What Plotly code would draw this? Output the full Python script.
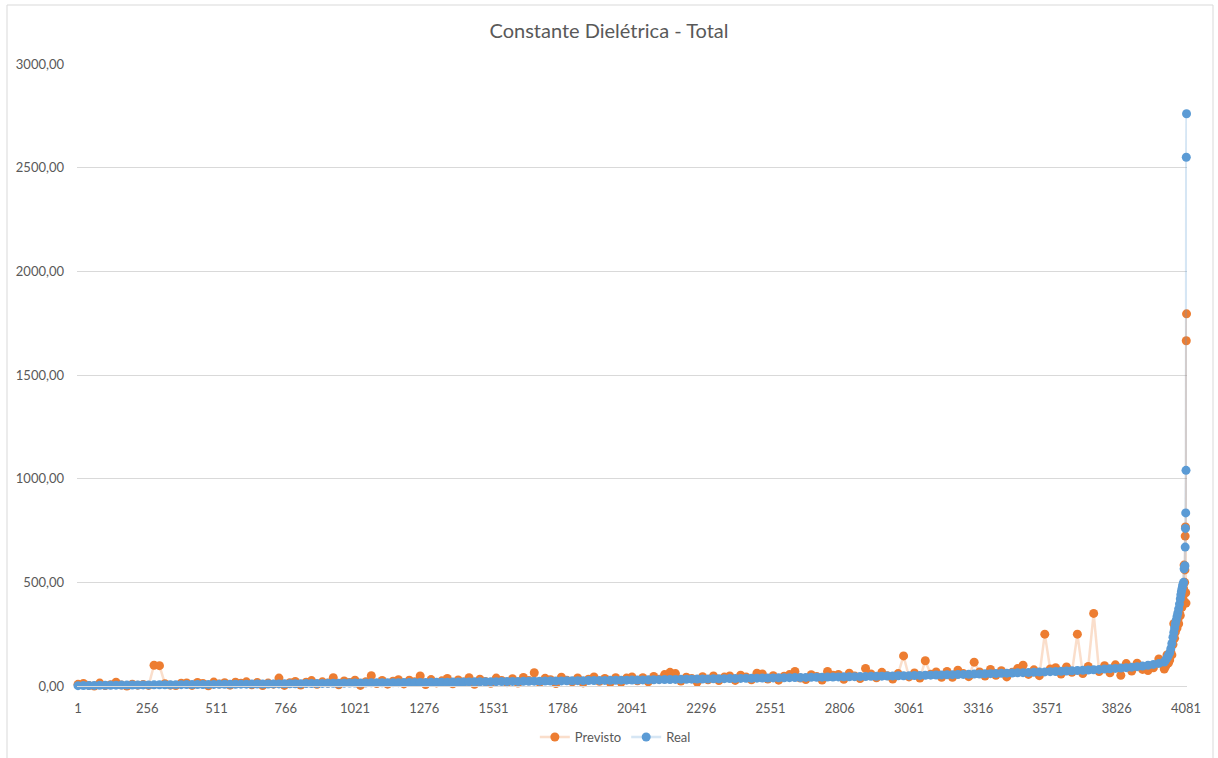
import plotly.graph_objects as go

# ---- data ----
body_start, body_step, body_count = 1, 20, 201   # categories 1, 21, ..., 4001
tail_idx = [4006, 4011, 4016, 4021, 4025, 4029, 4033, 4036, 4039, 4042, 4045,
            4048, 4051, 4054, 4057, 4060, 4062, 4064, 4066, 4068, 4070, 4072,
            4074, 4076, 4077, 4078, 4079, 4080, 4081, 4082, 4083]

real_body = [
    1.5, 2, 2.5, 3, 3.2, 3.5, 3.8, 4, 4.3, 4.5, 4.8, 5, 5.2, 5.4, 5.6, 5.8, 6, 6.2, 6.4, 6.6,
    6.8, 7, 7.2, 7.4, 7.6, 7.8, 8, 8.2, 8.4, 8.6, 8.8, 9, 9.2, 9.4, 9.6, 9.8, 10, 10.2, 10.5, 10.8,
    11, 11.3, 11.6, 11.9, 12.2, 12.5, 12.8, 13.1, 13.4, 13.7, 14, 14.3, 14.6, 14.9, 15.2, 15.4, 15.6, 15.8, 16, 16.2,
    16.4, 16.6, 16.8, 17, 17.2, 17.5, 17.8, 18.1, 18.4, 18.7, 19, 19.3, 19.6, 19.9, 20.2, 20.5, 20.8, 21.1, 21.4, 21.7,
    22, 22.3, 22.6, 22.9, 23.2, 23.5, 23.8, 24.1, 24.4, 24.7, 25, 25.3, 25.6, 25.9, 26.2, 26.5, 26.8, 27.1, 27.4, 27.7,
    28, 28.3, 28.6, 29, 29.4, 29.8, 30.2, 30.6, 31, 31.4, 31.8, 32.2, 32.6, 33, 33.4, 33.8, 34.2, 34.6, 35, 35.4,
    35.8, 36.2, 36.6, 37, 37.4, 37.8, 38.2, 38.6, 39, 39.4, 39.8, 40.2, 40.6, 41, 41.4, 41.8, 42.2, 42.6, 43, 43.4,
    43.8, 44.2, 44.6, 45, 45.5, 46, 46.5, 47, 47.5, 48, 48.5, 49, 49.5, 50, 50.6, 51.2, 51.8, 52.4, 53, 53.6,
    54.2, 54.8, 55.4, 56, 56.7, 57.4, 58.1, 58.8, 59.5, 60.3, 61.1, 61.9, 62.7, 63.5, 64.4, 65.3, 66.2, 67.1, 68, 69,
    70, 71.2, 72.4, 73.6, 74.8, 76, 77.3, 78.6, 80, 81.5, 83, 84.7, 86.5, 88.5, 90.7, 93.2, 96, 99.5, 104, 109,
    116,
]
real_tail = [125, 135, 147, 160, 180, 205, 235, 258, 280, 300, 318,
             335, 352, 372, 395, 420, 440, 455, 468, 480, 490, 500,
             565, 575, 580, 670, 760, 835, 1040, 2550, 2760]

previsto_body = [
    8, 12, 3, 0, 14, 2, 6, 18, 5, 0, 9, 4, 7, 3, 100, 98, 11, 4, 2, 13,
    15, 3, 17, 12, 1, 19, 10, 16, 4, 18, 13, 20, 6, 17, 2, 14, 9, 38, 3, 16,
    22, 5, 18, 26, 8, 20, 14, 40, 6, 24, 17, 28, 3, 21, 50, 12, 27, 9, 23, 30,
    10, 28, 20, 48, 7, 31, 15, 25, 36, 11, 29, 19, 40, 8, 33, 22, 13, 38, 27, 16,
    35, 14, 41, 26, 64, 18, 37, 30, 12, 42, 28, 20, 39, 15, 33, 44, 23, 36, 17, 40,
    18, 38, 44, 25, 40, 20, 46, 33, 55, 66, 60, 24, 42, 36, 19, 45, 30, 48, 26, 43,
    48, 27, 52, 44, 30, 62, 58, 34, 50, 28, 47, 55, 70, 38, 31, 54, 46, 29, 70, 52,
    56, 32, 62, 48, 36, 85, 58, 40, 66, 50, 34, 60, 145, 44, 63, 38, 122, 57, 68, 42,
    70, 42, 76, 60, 45, 115, 68, 48, 80, 52, 74, 44, 66, 84, 100, 56, 78, 50, 250, 82,
    88, 58, 92, 66, 250, 60, 94, 350, 70, 98, 64, 102, 52, 108, 72, 110, 80, 75, 88, 130,
    82,
]
previsto_tail = [95, 150, 110, 125, 165, 150, 200, 300, 230, 260, 290,
                 280, 320, 300, 350, 340, 390, 420, 380, 445, 420, 470,
                 583, 500, 560, 723, 767, 450, 400, 1665, 1795]

tick_labels = ["1", "256", "511", "766", "1021", "1276", "1531", "1786", "2041",
               "2296", "2551", "2806", "3061", "3316", "3571", "3826", "4081"]
y_ticks = [0, 500, 1000, 1500, 2000, 2500, 3000]

idx = list(range(body_start, body_start + body_step * body_count, body_step)) + tail_idx
real = real_body + real_tail
previsto = previsto_body + previsto_tail

# ---- figure ----
FONT = "Lato"
GRAY = "#595959"
W, H = 1218, 758
L, R, T, B = 77, 31, 64, 72
PW, PH = W - L - R, H - T - B

fig = go.Figure()
fig.add_trace(go.Scatter(
    x=idx, y=previsto, name="Previsto", mode="lines+markers",
    line=dict(color="rgba(237,125,49,0.25)", width=2.5),
    marker=dict(color="#ED7D31", size=9, line=dict(width=0)),
    cliponaxis=False,
))
fig.add_trace(go.Scatter(
    x=idx, y=real, name="Real", mode="lines+markers",
    line=dict(color="rgba(91,155,213,0.25)", width=2.5),
    marker=dict(color="#5B9BD5", size=9, line=dict(width=0)),
    cliponaxis=False,
))

fig.update_layout(
    width=W, height=H,
    margin=dict(l=L, r=R, t=T, b=B, autoexpand=False),
    paper_bgcolor="white", plot_bgcolor="white",
    separators=",.",
    font=dict(family=FONT, color=GRAY, size=13),
    title=dict(text="Constante Dielétrica - Total", x=0.5, xanchor="center",
               y=1 - 31 / H, yanchor="middle", yref="container",
               font=dict(family=FONT, size=20, color=GRAY)),
    showlegend=True,
    legend=dict(orientation="h", x=0.485, xanchor="center",
                yref="container", y=1 - 737 / H, yanchor="middle",
                font=dict(family=FONT, size=13, color=GRAY), itemwidth=30),
    hovermode=False,
)
fig.update_xaxes(
    range=[-2.7, 4084.7], tickmode="array",
    tickvals=[int(t) for t in tick_labels], ticktext=tick_labels,
    showgrid=False, zeroline=False, showline=True, linecolor="#D9D9D9", linewidth=1,
    ticks="", ticklabelstandoff=10, automargin=False,
    tickfont=dict(family=FONT, size=13, color=GRAY),
)
fig.update_yaxes(
    range=[0, 3000], tickmode="array", tickvals=y_ticks, tickformat=".2f",
    showgrid=True, gridcolor="#D9D9D9", gridwidth=1, zeroline=False, showline=False,
    ticks="", ticklabelstandoff=12, automargin=False,
    tickfont=dict(family=FONT, size=13, color=GRAY),
)
# outer chart border
fig.add_shape(type="rect", xref="paper", yref="paper",
              x0=(7 - L) / PW, x1=(1213 - L) / PW,
              y0=(T + PH - 765) / PH, y1=(T + PH - 5) / PH,
              line=dict(color="#D9D9D9", width=1), fillcolor="rgba(0,0,0,0)", layer="below")

fig.write_html("out.html", config={"displayModeBar": False},
               post_script="document.body.style.margin='0';document.body.style.overflow='hidden';")
